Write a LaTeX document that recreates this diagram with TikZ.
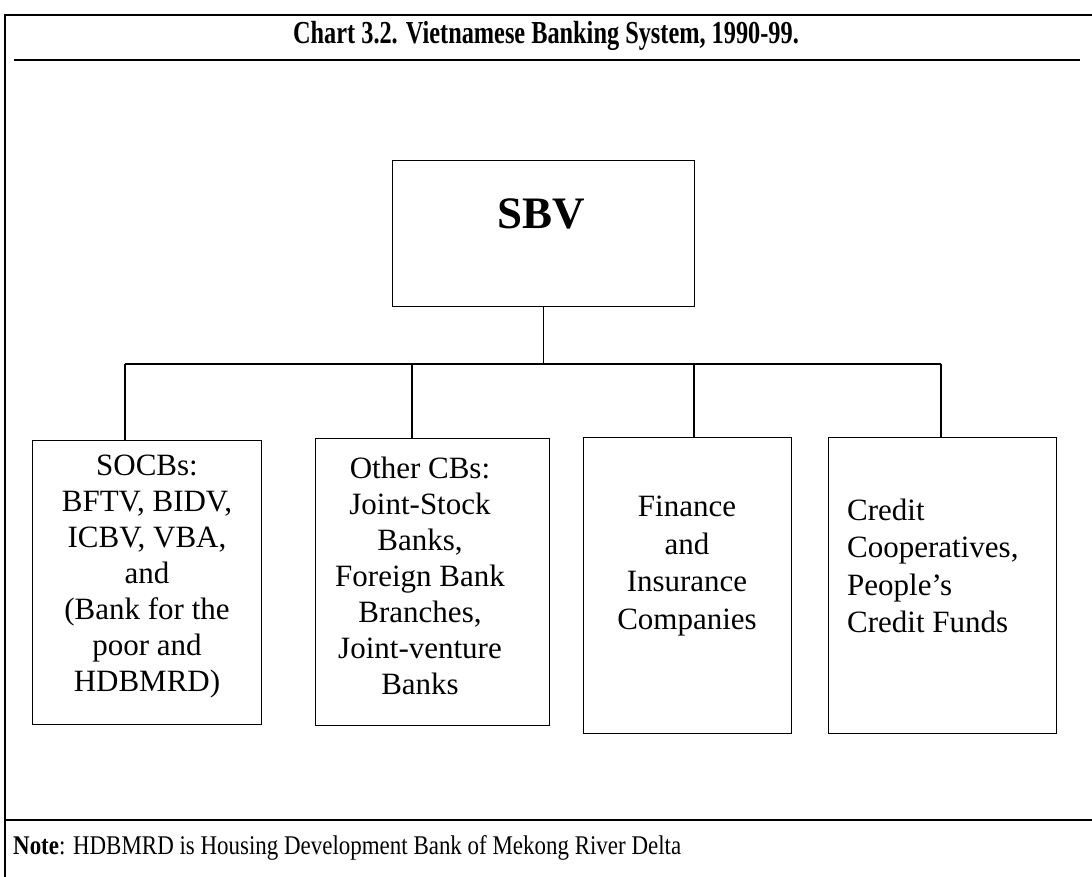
\documentclass[tikz,border=0pt]{standalone}
\usepackage{fontspec}
\setmainfont{Liberation Serif}
\usepackage{graphicx}
\begin{document}
\begin{tikzpicture}[x=1pt,y=-1pt,
  frameline/.style={line width=1.6pt},
  orgbox/.style={draw,line width=1.4pt,inner sep=0pt,anchor=north west},
  boxtext/.style={font=\fontsize{31}{36}\selectfont,align=center,inner sep=0pt},
  boxtextwide/.style={font=\fontsize{31}{37.5}\selectfont,inner sep=0pt},
  link/.style={line width=1.2pt}]
\useasboundingbox (0,0) rectangle (1092,877);
% frame
\draw[frameline] (1092,15) -- (5,15) -- (5,877);
\draw[frameline] (5,820) -- (1092,820);
\draw[line width=2pt] (14,60) -- (1080,60);
% title
\node[font=\fontsize{32}{36}\selectfont\bfseries,inner sep=0pt] (title) at (546,36)
  {\scalebox{0.76}[1]{Chart 3.2. Vietnamese Banking System, 1990-99.}};
% note
\node[font=\fontsize{27}{31}\selectfont,anchor=west,inner sep=0pt] (note) at (13,848)
  {\scalebox{0.85}[1]{\textbf{Note}: HDBMRD is Housing Development Bank of Mekong River Delta}};
% SBV
\node[orgbox,minimum width=302pt,minimum height=146pt] (sbv) at (392,160) {};
\node[font=\fontsize{45}{50}\selectfont\bfseries,inner sep=0pt] (sbvt) at (541,214) {SBV};
% lower boxes
\node[orgbox,minimum width=229pt,minimum height=284pt] (b1) at (32,440) {};
\node[orgbox,minimum width=234pt,minimum height=287pt] (b2) at (315,438) {};
\node[orgbox,minimum width=208pt,minimum height=296pt] (b3) at (583,437) {};
\node[orgbox,minimum width=228pt,minimum height=296pt] (b4) at (828,437) {};
\node[boxtext] (t1) at (147,577)
  {SOCBs:\\BFTV, BIDV,\\ICBV, VBA,\\and\\(Bank for the\\poor and\\HDBMRD)};
\node[boxtext] (t2) at (420,576)
  {Other CBs:\\Joint-Stock\\Banks,\\Foreign Bank\\Branches,\\Joint-venture\\Banks};
\node[boxtextwide,align=center] (t3) at (687,566)
  {Finance\\and\\Insurance\\Companies};
\node[boxtextwide,align=left,anchor=west] (t4) at (847,566)
  {Credit\\Cooperatives,\\People’s\\Credit Funds};
% connectors
\coordinate (bus) at (543,364);
\coordinate (j1) at (125,364);
\coordinate (j2) at (412,364);
\coordinate (j3) at (694,364);
\coordinate (j4) at (941,364);
\draw[link] (sbv.south) -- (sbv.south |- bus);
\draw[link] (j1) -- (j4);
\draw[link] (j1) -- (j1 |- b1.north);
\draw[link] (j2) -- (j2 |- b2.north);
\draw[link] (j3) -- (j3 |- b3.north);
\draw[link] (j4) -- (j4 |- b4.north);
\end{tikzpicture}
\end{document}
